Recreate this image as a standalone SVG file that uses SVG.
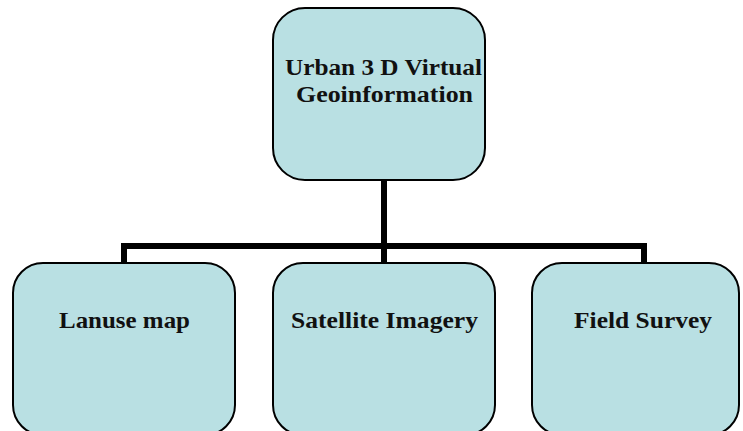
<svg xmlns="http://www.w3.org/2000/svg" width="743" height="431" viewBox="0 0 743 431">
<style>
.box{fill:#b9e0e3;stroke:#000;stroke-width:2}
.lbl{font-family:"Liberation Serif","DejaVu Serif",serif;font-weight:bold;font-size:23px;fill:#111;text-anchor:middle}
.conn{fill:none;stroke:#000;stroke-width:6}
</style>
<rect width="743" height="431" fill="#fff"/>
<g id="connectors">
<line class="conn" x1="384" y1="180" x2="384" y2="263"/>
<polyline class="conn" points="124,263 124,246 644,246 644,263"/>
</g>
<g id="root">
<rect class="box" x="273" y="8" width="212" height="172" rx="32"/>
<text class="lbl" x="383.5" y="75" textLength="197" lengthAdjust="spacingAndGlyphs">Urban 3 D Virtual</text>
<text class="lbl" x="384.5" y="102" textLength="177" lengthAdjust="spacingAndGlyphs">Geoinformation</text>
</g>
<g id="lanuse">
<rect class="box" x="13" y="263" width="222" height="172" rx="30"/>
<text class="lbl" x="124.5" y="328" textLength="131" lengthAdjust="spacingAndGlyphs">Lanuse map</text>
</g>
<g id="satellite">
<rect class="box" x="273" y="263" width="222" height="172" rx="30"/>
<text class="lbl" x="384.5" y="328" textLength="187" lengthAdjust="spacingAndGlyphs">Satellite Imagery</text>
</g>
<g id="field">
<rect class="box" x="532" y="263" width="207" height="172" rx="30"/>
<text class="lbl" x="643" y="328" textLength="138" lengthAdjust="spacingAndGlyphs">Field Survey</text>
</g>
</svg>
